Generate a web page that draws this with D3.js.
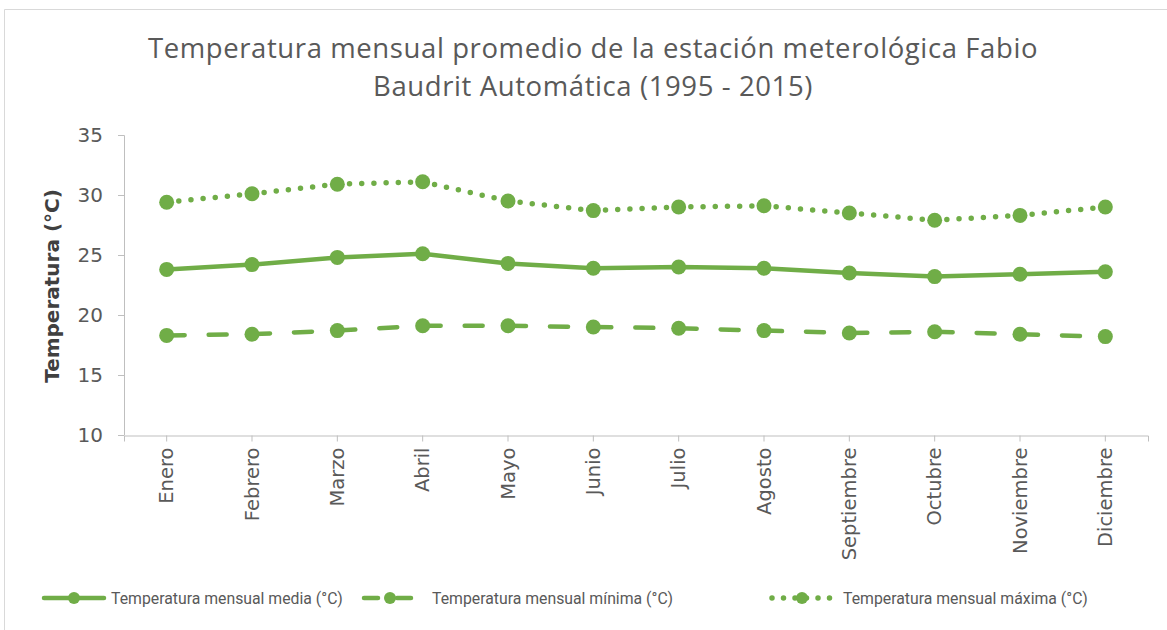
<!DOCTYPE html>
<html><head><meta charset="utf-8">
<script src="https://cdn.jsdelivr.net/npm/d3@7"></script>
<style>body{margin:0;background:#fff}svg{display:block}</style>
</head><body>
<script>
const months = ["Enero","Febrero","Marzo","Abril","Mayo","Junio","Julio","Agosto","Septiembre","Octubre","Noviembre","Diciembre"];
const media  = [23.8,24.2,24.8,25.1,24.3,23.9,24.0,23.9,23.5,23.2,23.4,23.6];
const minima = [18.3,18.4,18.7,19.1,19.1,19.0,18.9,18.7,18.5,18.6,18.4,18.2];
const maxima = [29.4,30.1,30.9,31.1,29.5,28.7,29.0,29.1,28.5,27.9,28.3,29.0];
const yTicks = [10,15,20,25,30,35];
const seriesNames = ["Temperatura mensual media (°C)","Temperatura mensual mínima (°C)","Temperatura mensual máxima (°C)"];
const titleLines = ["Temperatura mensual promedio de la estación meterológica Fabio","Baudrit Automática (1995 - 2015)"];
const yTitle = "Temperatura (°C)";

const W=1167,H=630, green="#70AD47", txt="#595959", axisC="#BFBFBF";
const svg=d3.select("body").append("svg").attr("width",W).attr("height",H);
svg.append("rect").attr("width",W).attr("height",H).attr("fill","#fff");
svg.append("path").attr("d",`M4.5,${H}V9.5H${W}`).attr("fill","none").attr("stroke","#D9D9D9").attr("stroke-width",1);

const titleFont="'Open Sans',sans-serif";
const legFont="Roboto,sans-serif";
const font="'DejaVu Sans',sans-serif";
svg.append("g").selectAll("text").data(titleLines).join("text")
  .attr("x",593).attr("y",(d,i)=>58+i*38).attr("text-anchor","middle")
  .attr("font-family",titleFont).attr("font-size",27.5).attr("letter-spacing",0.6).attr("fill",txt).text(d=>d);

const x=d3.scaleBand().domain(months).range([124,1148]);
const y=d3.scaleLinear().domain([10,35]).range([435,135]);

const ya=svg.append("g").attr("transform","translate(124,0)")
  .call(d3.axisLeft(y).tickValues(yTicks).tickSize(6).tickPadding(15));
ya.select(".domain").attr("stroke",axisC).attr("d","M-6,135.5H0.5V435.5");
ya.selectAll(".tick line").attr("stroke",axisC);
ya.selectAll(".tick text").attr("font-family",font).attr("font-size",20).attr("fill",txt);

const xa=svg.append("g").attr("transform","translate(0,435.5)")
  .call(d3.axisBottom(x).tickSize(6).tickSizeOuter(6).tickPadding(8));
xa.select(".domain").attr("stroke",axisC);
xa.selectAll(".tick line").attr("stroke",axisC);
xa.selectAll(".tick text").attr("font-family",font).attr("font-size",19.5).attr("fill",txt)
  .attr("text-anchor","end").attr("transform","rotate(-90)").attr("x",-12).attr("y",0).attr("dy","0.35em");

svg.append("text").attr("transform","translate(59,286) rotate(-90)").attr("text-anchor","middle")
  .attr("font-family",font).attr("font-size",20).attr("font-weight","bold").attr("fill","#404040").text(yTitle);

const cx=d=>x(d)+x.bandwidth()/2;
const styles=[
  {dash:null, w:4.5},
  {dash:"18 24", w:4.5},
  {dash:"0 12.2", w:5.5}
];
const data=[media,minima,maxima];
data.forEach((vals,si)=>{
  const g=svg.append("g");
  const pts=months.map((m,i)=>[cx(m),y(vals[i])]);
  const line=d3.line();
  if(si===0){
    g.append("path").attr("d",line(pts)).attr("fill","none").attr("stroke",green)
     .attr("stroke-width",styles[si].w).attr("stroke-linejoin","round");
  } else {
    for(let i=0;i<pts.length-1;i++){
      g.append("path").attr("d",line([pts[i],pts[i+1]])).attr("fill","none").attr("stroke",green)
       .attr("stroke-width",styles[si].w).attr("stroke-linecap","round").attr("stroke-dasharray",styles[si].dash);
    }
  }
  g.selectAll("circle").data(pts).join("circle").attr("cx",d=>d[0]).attr("cy",d=>d[1]).attr("r",7.5).attr("fill",green);
});

const leg=[{x0:44,x1:104,tx:111},{x0:364,x1:416,tx:432},{x0:772,x1:832,tx:843}];
const ly=598;
leg.forEach((L,i)=>{
  const g=svg.append("g");
  const p=g.append("path").attr("d",`M${L.x0},${ly}H${L.x1}`).attr("fill","none").attr("stroke",green)
    .attr("stroke-width",styles[i].w).attr("stroke-linecap","round");
  if(i===1) p.attr("stroke-dasharray","14 19");
  if(i===2) p.attr("stroke-dasharray","0 11.5");
  g.append("circle").attr("cx",(L.x0+L.x1)/2).attr("cy",ly).attr("r",6).attr("fill",green);
  g.append("text").attr("x",L.tx).attr("y",ly).attr("dy","0.35em").attr("font-family",legFont)
    .attr("font-size",15.8).attr("fill",txt).text(seriesNames[i]);
});
</script>
</body></html>
